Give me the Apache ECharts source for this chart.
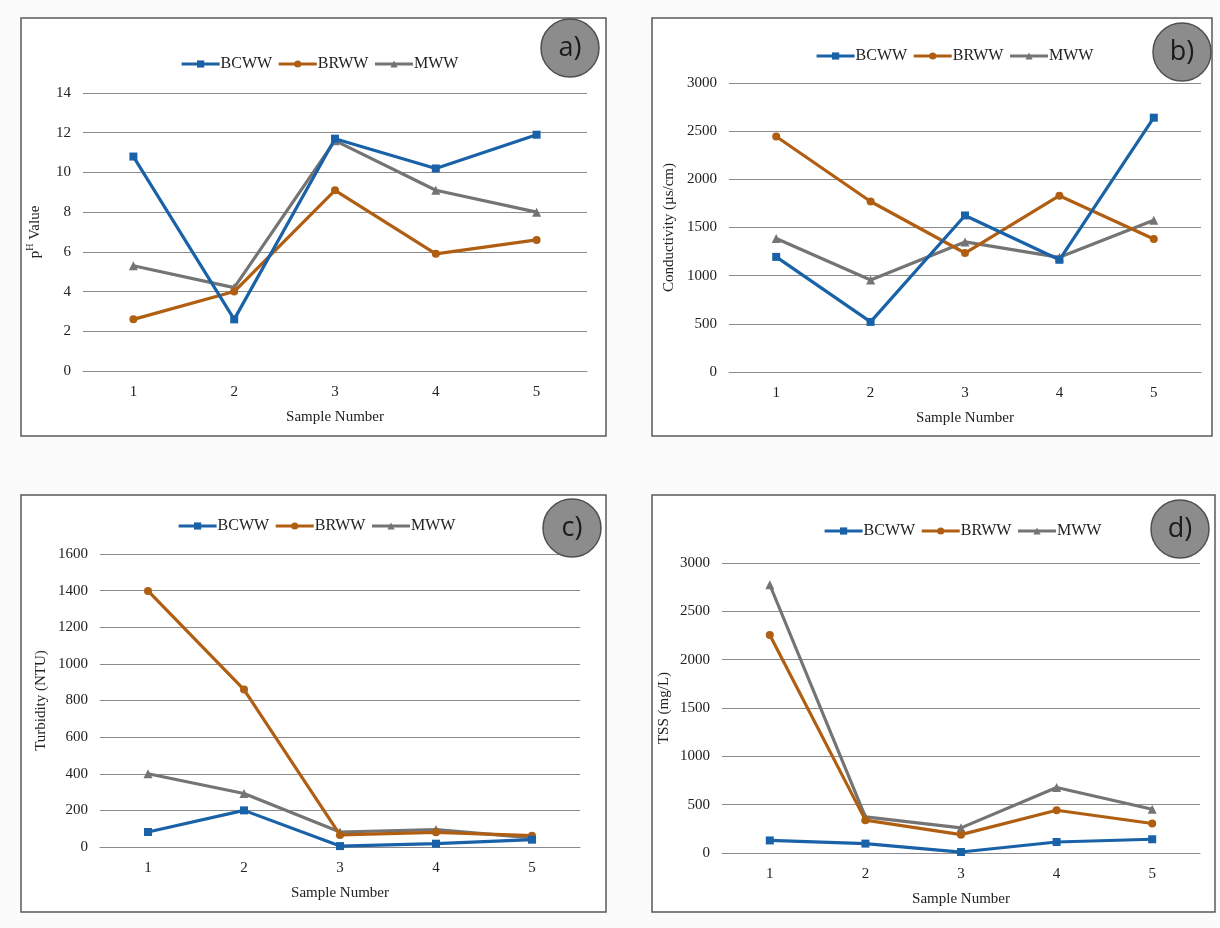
<!DOCTYPE html>
<html>
<head>
<meta charset="utf-8">
<title>Wastewater quality by sample</title>
<script src="https://cdn.jsdelivr.net/npm/echarts@6/dist/echarts.min.js"></script>
<style>
  html, body { margin: 0; padding: 0; background: #fbfbfb; }
  #chart { width: 1220px; height: 928px; }
</style>
</head>
<body>
<div id="chart"></div>
<script>
// Sample numbers along the horizontal axis
const samples = ['1', '2', '3', '4', '5'];
const seriesNames = ['BCWW', 'BRWW', 'MWW'];

// a) pH value
const phBCWW = [10.8, 2.6, 11.7, 10.2, 11.9];
const phBRWW = [2.6, 4.0, 9.1, 5.9, 6.6];
const phMWW  = [5.3, 4.2, 11.6, 9.1, 8.0];

// b) Conductivity (µs/cm)
const condBCWW = [1195, 520, 1625, 1165, 2640];
const condBRWW = [2445, 1770, 1235, 1830, 1380];
const condMWW  = [1385, 955, 1350, 1190, 1575];

// c) Turbidity (NTU)
const turbBCWW = [82, 200, 5, 18, 40];
const turbBRWW = [1398, 860, 66, 80, 62];
const turbMWW  = [400, 292, 82, 95, 50];

// d) TSS (mg/L)
const tssBCWW = [130, 97, 10, 114, 142];
const tssBRWW = [2255, 340, 190, 442, 305];
const tssMWW  = [2775, 373, 260, 677, 453];

// Y axis tick ranges per panel
const yRanges = [
  { min: 0, max: 14, interval: 2 },
  { min: 0, max: 3000, interval: 500 },
  { min: 0, max: 1600, interval: 200 },
  { min: 0, max: 3000, interval: 500 }
];

const colors = { BCWW: '#1962a8', BRWW: '#b05f12', MWW: '#747474' };
const symbols = { BCWW: 'rect', BRWW: 'circle', MWW: 'triangle' };
const symbolSizes = { BCWW: 8, BRWW: 8, MWW: 9 };

const serif = '"Liberation Serif", "Times New Roman", serif';

// Panel layout: frame box, plot area, legend position, badge centre
const panels = [
  { frame: [21, 18, 585, 418], grid: { left: 83, top: 93, width: 504, height: 278 },
    legendY: 51, legendX: 175, badge: [570, 48], tag: 'a)', yName: '{p|p}{h|H}{p| Value}', yGap: 40 },
  { frame: [652, 18, 560, 418], grid: { left: 729, top: 83, width: 472, height: 289 },
    legendY: 43, legendX: 810, badge: [1182, 52], tag: 'b)', yName: 'Conductivity (µs/cm)', yGap: 52 },
  { frame: [21, 495, 585, 417], grid: { left: 100, top: 554, width: 480, height: 293 },
    legendY: 513, legendX: 172, badge: [572, 528], tag: 'c)', yName: 'Turbidity (NTU)', yGap: 51 },
  { frame: [652, 495, 563, 417], grid: { left: 722, top: 563, width: 478, height: 290 },
    legendY: 518, legendX: 818, badge: [1180, 529], tag: 'd)', yName: 'TSS (mg/L)', yGap: 50 }
];

const panelData = [
  [phBCWW, phBRWW, phMWW],
  [condBCWW, condBRWW, condMWW],
  [turbBCWW, turbBRWW, turbMWW],
  [tssBCWW, tssBRWW, tssMWW]
];

const grids = [], xAxes = [], yAxes = [], series = [], legends = [], graphics = [];

panels.forEach((p, i) => {
  grids.push(Object.assign({ containLabel: false }, p.grid));

  xAxes.push({
    type: 'category', gridIndex: i, data: samples, boundaryGap: true,
    axisTick: { show: false },
    axisLine: { show: true, lineStyle: { color: '#8a8a8a', width: 1 } },
    axisLabel: { color: '#222', fontFamily: serif, fontSize: 15, margin: 14 },
    name: 'Sample Number', nameLocation: 'middle', nameGap: 39,
    nameTextStyle: { color: '#222', fontFamily: serif, fontSize: 15 }
  });

  yAxes.push({
    type: 'value', gridIndex: i,
    min: yRanges[i].min, max: yRanges[i].max, interval: yRanges[i].interval,
    axisLine: { show: false }, axisTick: { show: false },
    axisLabel: { color: '#222', fontFamily: serif, fontSize: 15, margin: 12,
                 formatter: v => String(v) },
    splitLine: { show: true, lineStyle: { color: '#8a8a8a', width: 1 } },
    name: p.yName, nameLocation: 'middle', nameRotate: 90, nameGap: p.yGap,
    nameTextStyle: {
      color: '#222', fontFamily: serif, fontSize: 15,
      rich: {
        p: { fontFamily: serif, fontSize: 15, color: '#222', verticalAlign: 'bottom', lineHeight: 18 },
        h: { fontFamily: serif, fontSize: 10, color: '#222', verticalAlign: 'top', lineHeight: 18 }
      }
    }
  });

  seriesNames.forEach((name, k) => {
    series.push({
      name: name, type: 'line', xAxisIndex: i, yAxisIndex: i,
      data: panelData[i][k],
      symbol: symbols[name], symbolSize: symbolSizes[name],
      lineStyle: { color: colors[name], width: 3.2 },
      itemStyle: { color: colors[name] },
      z: 3 + (2 - k)
    });
  });

  legends.push({
    data: seriesNames, left: p.legendX, top: p.legendY, orient: 'horizontal',
    itemWidth: 38, itemHeight: 9, itemGap: 5, selectedMode: false,
    lineStyle: { width: 3.2 },
    textStyle: { color: '#222', fontFamily: serif, fontSize: 16, padding: [0, 0, 0, -4] }
  });

  graphics.push({
    type: 'rect', z: -10, silent: true,
    shape: { x: p.frame[0], y: p.frame[1], width: p.frame[2], height: p.frame[3] },
    style: { fill: '#ffffff', stroke: '#5a5a5a', lineWidth: 1.5 }
  });
  graphics.push({
    type: 'circle', z: 10, silent: true,
    shape: { cx: p.badge[0], cy: p.badge[1], r: 29 },
    style: { fill: '#8c8c8c', stroke: '#505050', lineWidth: 1.5 }
  });
  graphics.push({
    type: 'text', z: 11, silent: true,
    x: p.badge[0], y: p.badge[1],
    style: {
      text: p.tag, fill: '#1a1a1a', font: '27px "Open Sans", "Noto Sans", sans-serif',
      textAlign: 'center', textVerticalAlign: 'middle'
    }
  });
});

const chart = echarts.init(document.getElementById('chart'), null, { renderer: 'canvas' });
chart.setOption({
  backgroundColor: '#fbfbfb',
  animation: false,
  grid: grids,
  xAxis: xAxes,
  yAxis: yAxes,
  legend: legends,
  series: series,
  graphic: graphics
});
</script>
</body>
</html>
